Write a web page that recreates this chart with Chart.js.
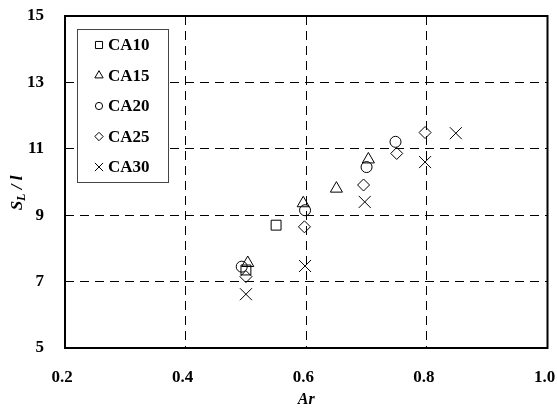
<!DOCTYPE html>
<html>
<head>
<meta charset="utf-8">
<script src="https://cdn.jsdelivr.net/npm/chart.js@4"></script>
<style>
  body { margin: 0; background: #fff; }
</style>
</head>
<body>
<canvas id="sl-chart" width="557" height="410"></canvas>
<script>
// series names, in legend order
var seriesNames = ["CA10", "CA15", "CA20", "CA25", "CA30"];

// Ar values and S_L / l values per series
var ca10Ar = [0.50, 0.55];
var ca10SL = [7.35, 8.70];
var ca15Ar = [0.503, 0.595, 0.65, 0.703];
var ca15SL = [7.56, 9.36, 9.80, 10.68];
var ca20Ar = [0.493, 0.598, 0.70, 0.748];
var ca20SL = [7.45, 9.15, 10.45, 11.21];
var ca25Ar = [0.50, 0.597, 0.695, 0.75, 0.797];
var ca25SL = [7.15, 8.65, 9.91, 10.86, 11.49];
var ca30Ar = [0.50, 0.598, 0.697, 0.797, 0.848];
var ca30SL = [6.62, 7.47, 9.40, 10.60, 11.47];

// axis ticks
var xTicks = [0.2, 0.4, 0.6, 0.8, 1.0];
var yTicks = [5, 7, 9, 11, 13, 15];

var serif = "'Liberation Serif', 'Times New Roman', serif";

function pairs(xs, ys) {
  return xs.map(function(x, i) { return { x: x, y: ys[i] }; });
}

// marker shape and size for each series (plot, legend)
var markers = [
  { style: "rect",     r: 7,   lr: 5 },
  { style: "triangle", r: 7,   lr: 4.8 },
  { style: "circle",   r: 5.5, lr: 3.6 },
  { style: "rectRot",  r: 6,   lr: 4.2 },
  { style: "crossRot", r: 8.5, lr: 5.8 }
];

var seriesData = [
  pairs(ca10Ar, ca10SL),
  pairs(ca15Ar, ca15SL),
  pairs(ca20Ar, ca20SL),
  pairs(ca25Ar, ca25SL),
  pairs(ca30Ar, ca30SL)
];

var datasets = seriesNames.map(function(name, i) {
  return {
    label: name,
    data: seriesData[i],
    pointStyle: markers[i].style,
    pointRadius: markers[i].r,
    pointHoverRadius: markers[i].r,
    pointBackgroundColor: "rgba(255,255,255,0)",
    pointBorderColor: "#000",
    pointBorderWidth: 1,
    showLine: false
  };
});

function drawMarker(ctx, style, x, y, r) {
  ctx.beginPath();
  if (style === "rect") {
    var s = r * Math.SQRT1_2;
    ctx.rect(x - s, y - s, 2 * s, 2 * s);
  } else if (style === "triangle") {
    ctx.moveTo(x, y - r);
    ctx.lineTo(x + r * Math.sin(2 * Math.PI / 3), y + r * 0.5);
    ctx.lineTo(x - r * Math.sin(2 * Math.PI / 3), y + r * 0.5);
    ctx.closePath();
  } else if (style === "circle") {
    ctx.arc(x, y, r, 0, Math.PI * 2);
  } else if (style === "rectRot") {
    ctx.moveTo(x, y - r);
    ctx.lineTo(x + r, y);
    ctx.lineTo(x, y + r);
    ctx.lineTo(x - r, y);
    ctx.closePath();
  } else {
    var d = r * Math.SQRT1_2;
    ctx.moveTo(x - d, y - d);
    ctx.lineTo(x + d, y + d);
    ctx.moveTo(x + d, y - d);
    ctx.lineTo(x - d, y + d);
  }
  ctx.stroke();
}

// frame, boxed legend and the y title with its subscript
var decorations = {
  id: "decorations",
  afterDatasetsDraw: function(chart) {
    var ctx = chart.ctx;
    var a = chart.chartArea;
    ctx.save();

    // legend box
    var bx = 77.5, by = 29.5, bw = 91, bh = 153;
    ctx.fillStyle = "#fff";
    ctx.fillRect(bx, by, bw, bh);
    ctx.strokeStyle = "#444";
    ctx.lineWidth = 1;
    ctx.strokeRect(bx, by, bw, bh);

    ctx.font = "bold 17px " + serif;
    ctx.textBaseline = "middle";
    ctx.textAlign = "left";
    seriesNames.forEach(function(name, i) {
      var cy = 45 + i * 30.5;
      ctx.strokeStyle = "#000";
      ctx.lineWidth = 1;
      drawMarker(ctx, markers[i].style, 99, cy, markers[i].lr);
      ctx.fillStyle = "#000";
      ctx.fillText(name, 108, cy + 1);
    });

    // plot frame
    ctx.strokeStyle = "#000";
    ctx.lineWidth = 2;
    ctx.strokeRect(a.left, a.top, a.right - a.left, a.bottom - a.top);

    // y title: S_L / l
    ctx.translate(16, 193);
    ctx.rotate(-Math.PI / 2);
    ctx.fillStyle = "#000";
    ctx.textBaseline = "alphabetic";
    var big = "italic bold 17px " + serif;
    var small = "italic bold 12px " + serif;
    ctx.font = big;
    var wS = ctx.measureText("S").width;
    var wRest = ctx.measureText(" / l").width;
    ctx.font = small;
    var wL = ctx.measureText("L").width;
    var x0 = -(wS + wL + wRest) / 2;
    ctx.font = big;
    ctx.fillText("S", x0, 6);
    ctx.font = small;
    ctx.fillText("L", x0 + wS, 9);
    ctx.font = big;
    ctx.fillText(" / l", x0 + wS + wL, 6);
    ctx.restore();
  }
};

function edgeless(min, max) {
  return function(c) {
    var v = c.tick ? c.tick.value : null;
    return (v === min || v === max) ? "rgba(0,0,0,0)" : "#000";
  };
}

// keep tick labels from shrinking the plot area
function noScalePadding(scale) {
  scale.paddingLeft = 0;
  scale.paddingRight = 0;
  scale.paddingTop = 0;
  scale.paddingBottom = 0;
}

new Chart(document.getElementById("sl-chart"), {
  type: "scatter",
  data: { datasets: datasets },
  options: {
    responsive: false,
    animation: false,
    layout: { padding: { top: 16, right: 9, left: 0, bottom: 0 } },
    plugins: {
      legend: { display: false },
      tooltip: { enabled: false }
    },
    scales: {
      x: {
        type: "linear",
        min: 0.2,
        max: 1.0,
        afterBuildTicks: function(scale) {
          scale.ticks = xTicks.map(function(v) { return { value: v }; });
        },
        afterFit: function(scale) { scale.height = 62; noScalePadding(scale); },
        grid: { color: edgeless(0.2, 1.0), lineWidth: 1, drawTicks: false },
        border: { display: false, dash: [9, 6] },
        ticks: {
          padding: 19,
          labelOffset: -3,
          color: "#000",
          font: { family: serif, size: 17, weight: "bold" },
          callback: function(v) { return Number(v).toFixed(1); }
        },
        title: {
          display: true,
          text: "Ar",
          color: "#000",
          font: { family: serif, size: 16, weight: "bold", style: "italic" },
          padding: { top: 0, bottom: 1 }
        }
      },
      y: {
        type: "linear",
        min: 5,
        max: 15,
        afterBuildTicks: function(scale) {
          scale.ticks = yTicks.map(function(v) { return { value: v }; });
        },
        afterFit: function(scale) { scale.width = 65; noScalePadding(scale); },
        grid: { color: edgeless(5, 15), lineWidth: 1, drawTicks: false },
        border: { display: false, dash: [9, 6] },
        ticks: {
          padding: 21,
          color: "#000",
          font: { family: serif, size: 17, weight: "bold" }
        }
      }
    }
  },
  plugins: [decorations]
});
</script>
</body>
</html>
